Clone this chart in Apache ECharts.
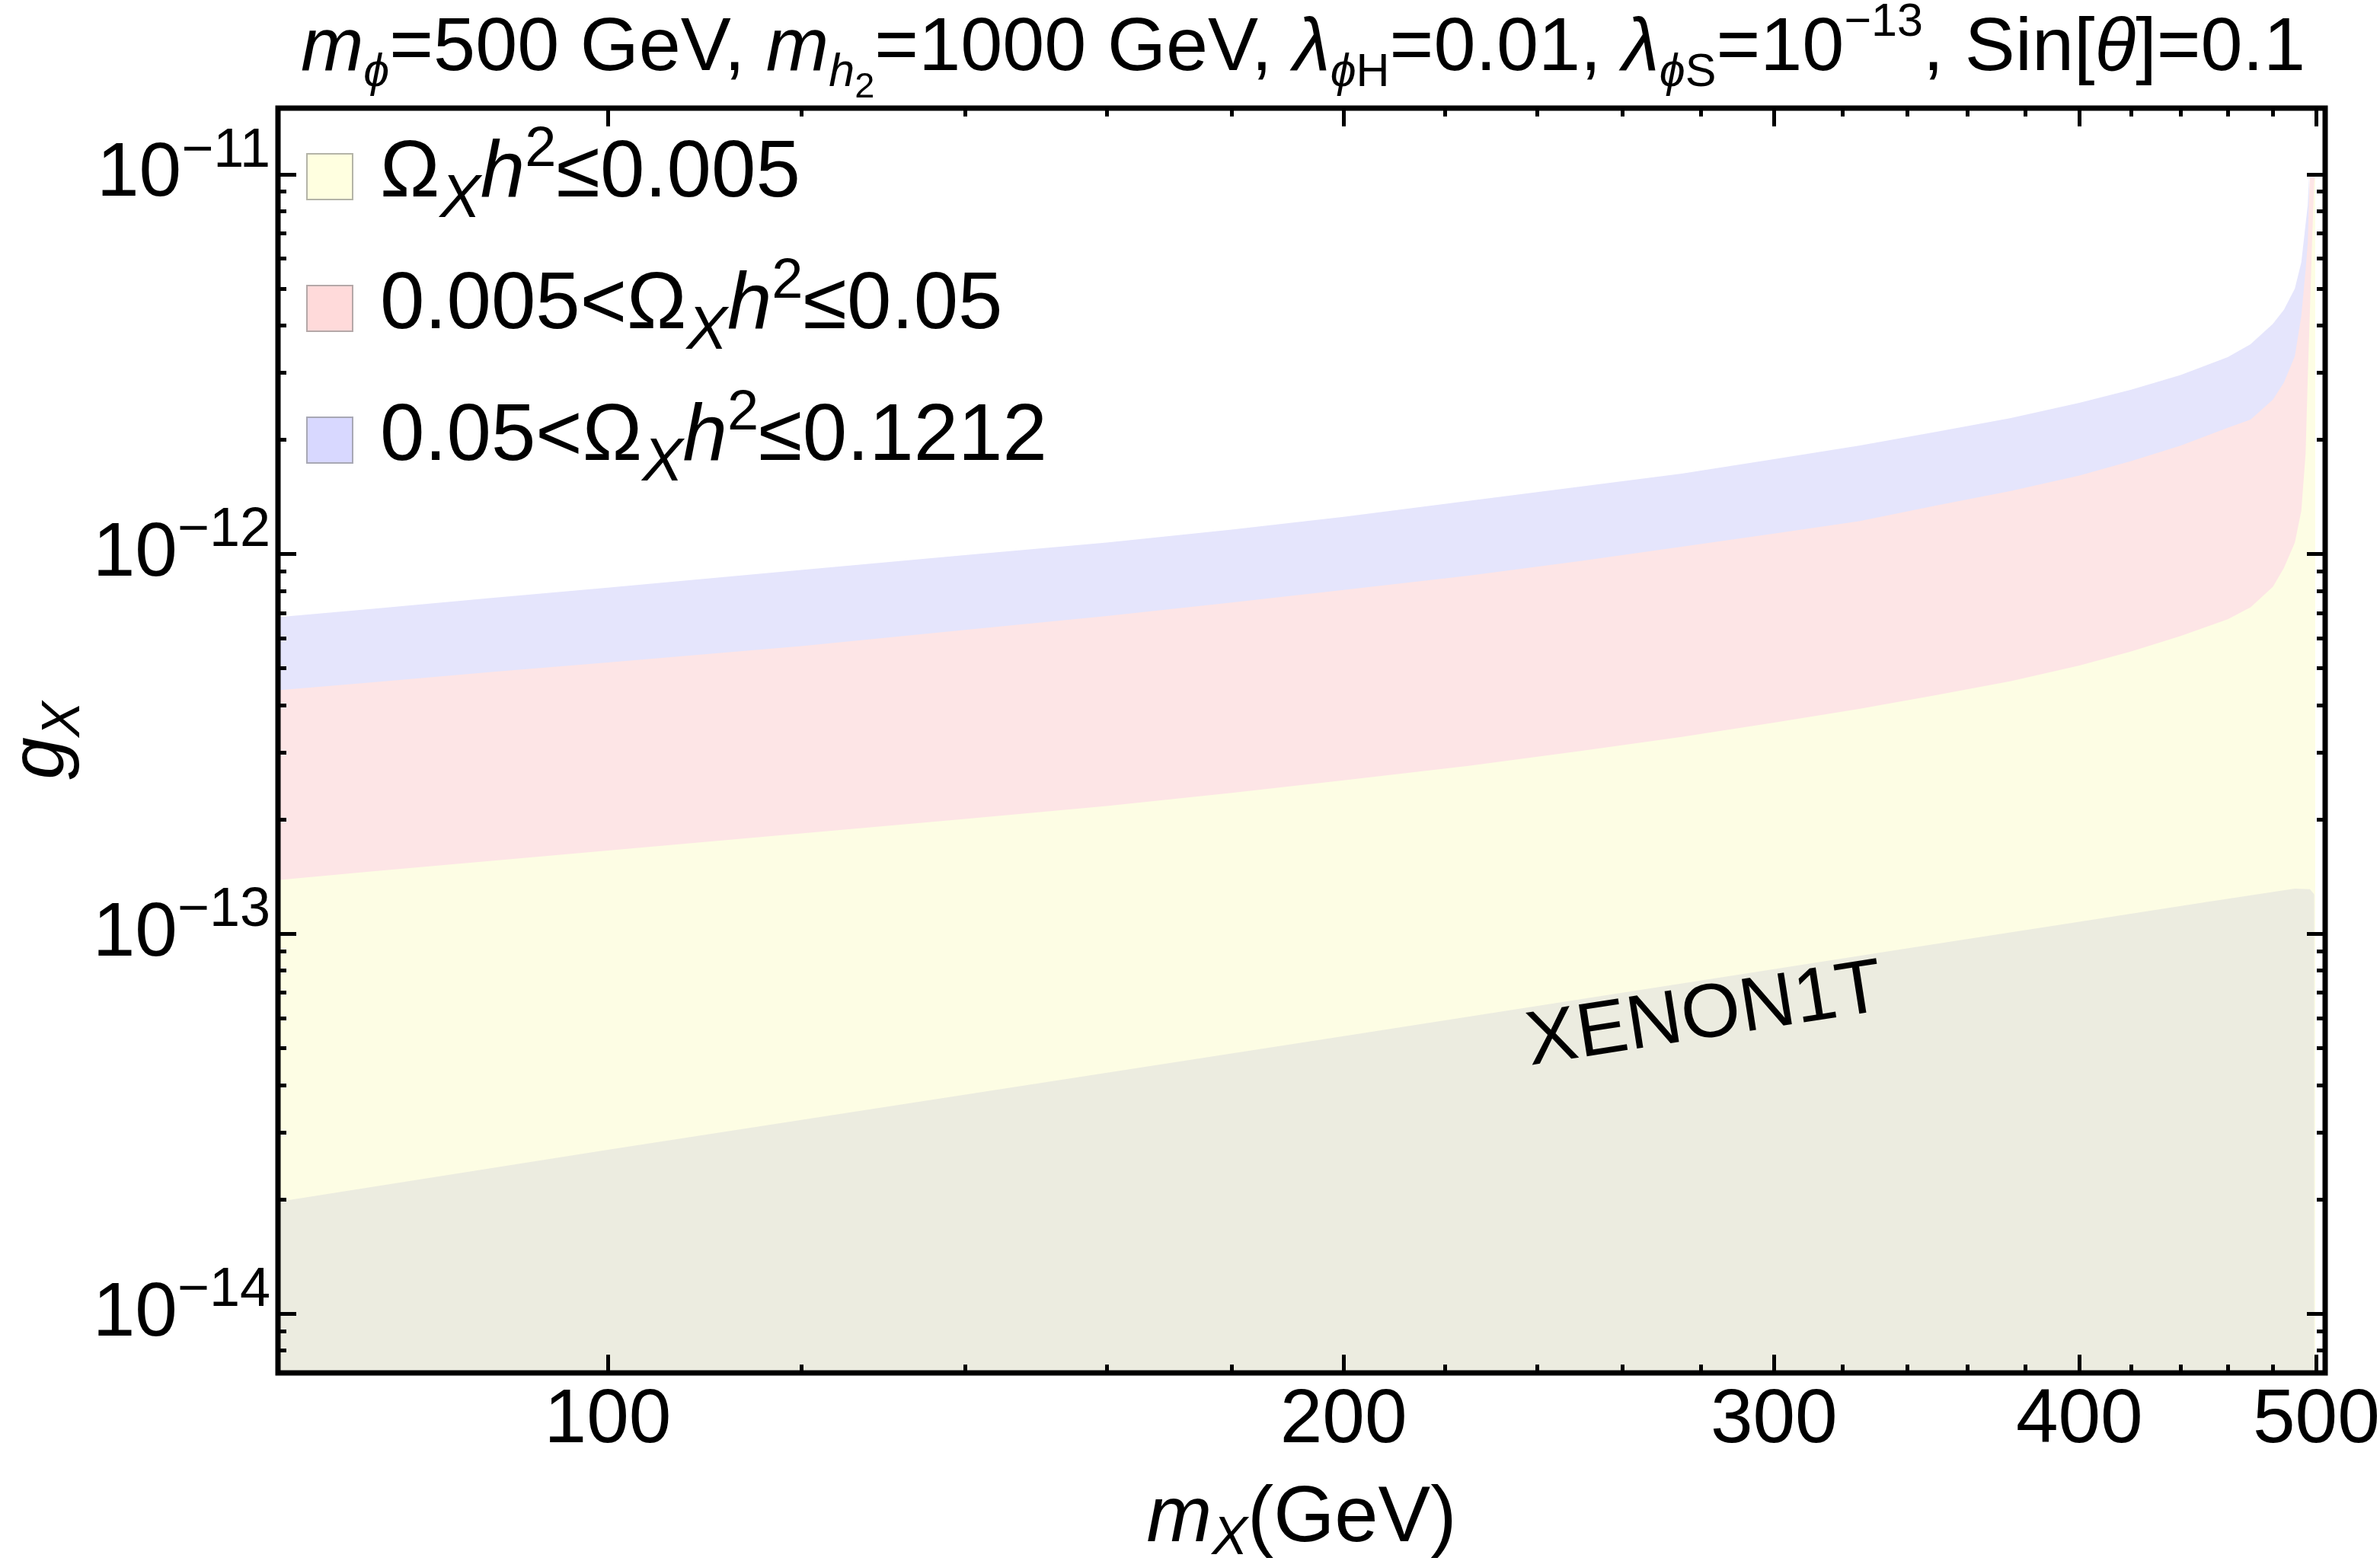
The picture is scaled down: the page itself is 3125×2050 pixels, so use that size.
<!DOCTYPE html>
<html><head><meta charset="utf-8">
<script src="https://cdn.jsdelivr.net/npm/echarts@6/dist/echarts.min.js"></script>
<style>html,body{margin:0;padding:0;background:#fff}#c{width:3125px;height:2050px}</style>
</head><body><div id="c"></div>
<script>
const FONT = '"Liberation Sans", Arial, Helvetica, sans-serif';

// ---- axis ranges / ticks ----
const X_MIN = 73.3, X_MAX = 504.2;
const Y_MIN = 6.98e-15, Y_MAX = 1.493e-11;
const xMajorTicks = [100, 200, 300, 400, 500];
const xMinorTicks = [120, 140, 160, 180, 220, 240, 260, 280, 320, 340, 360, 380, 420, 440, 460, 480];
const yMajorTicks = [1e-14, 1e-13, 1e-12, 1e-11];
const yMinorTicks = [8e-15, 9e-15,
  2e-14, 3e-14, 4e-14, 5e-14, 6e-14, 7e-14, 8e-14, 9e-14,
  2e-13, 3e-13, 4e-13, 5e-13, 6e-13, 7e-13, 8e-13, 9e-13,
  2e-12, 3e-12, 4e-12, 5e-12, 6e-12, 7e-12, 8e-12, 9e-12];

// ---- boundaries (m_X in GeV, g_X) ----
// upper edge of 0.05 < Omega h^2 <= 0.1212 band
const mBlue = [73.3, 80, 90, 100, 120, 140, 160, 180, 200, 225, 250, 275, 300, 325, 350, 375, 400, 420, 440, 460, 470, 480, 485, 490, 493, 495, 496, 496.6];
const gBlue = [6.82e-13, 7.17e-13, 7.68e-13, 8.16e-13, 9.08e-13, 9.93e-13, 1.072e-12, 1.16e-12, 1.253e-12, 1.38e-12, 1.506e-12, 1.629e-12, 1.778e-12, 1.93e-12, 2.10e-12, 2.28e-12, 2.50e-12, 2.71e-12, 2.96e-12, 3.30e-12, 3.57e-12, 4.04e-12, 4.40e-12, 5.0e-12, 5.86e-12, 7.4e-12, 8.3e-12, 1.0e-11];
// upper edge of 0.005 < Omega h^2 <= 0.05 band
const mPink = [73.3, 80, 90, 100, 120, 140, 160, 180, 200, 225, 250, 275, 300, 325, 350, 375, 400, 420, 440, 460, 470, 480, 485, 490, 493, 495, 496, 497, 499.3];
const gPink = [4.38e-13, 4.59e-13, 4.90e-13, 5.18e-13, 5.72e-13, 6.31e-13, 6.87e-13, 7.45e-13, 8.04e-13, 8.77e-13, 9.59e-13, 1.045e-12, 1.132e-12, 1.22e-12, 1.345e-12, 1.465e-12, 1.61e-12, 1.756e-12, 1.93e-12, 2.15e-12, 2.26e-12, 2.55e-12, 2.83e-12, 3.32e-12, 4.24e-12, 5.6e-12, 6.6e-12, 1.0e-11, 1.0e-11];
// upper edge of Omega h^2 <= 0.005 region
const mYellow = [73.3, 80, 90, 100, 120, 140, 160, 180, 200, 225, 250, 275, 300, 325, 350, 375, 400, 420, 440, 460, 470, 480, 485, 490, 493, 495, 496, 497, 498, 499, 499.5];
const gYellow = [1.386e-13, 1.459e-13, 1.56e-13, 1.656e-13, 1.839e-13, 2.006e-13, 2.17e-13, 2.35e-13, 2.535e-13, 2.77e-13, 3.03e-13, 3.30e-13, 3.60e-13, 3.91e-13, 4.26e-13, 4.63e-13, 5.085e-13, 5.54e-13, 6.08e-13, 6.73e-13, 7.24e-13, 8.2e-13, 9.2e-13, 1.072e-12, 1.30e-12, 1.84e-12, 2.92e-12, 4.34e-12, 6.6e-12, 9.5e-12, 1.0e-11];
// XENON1T exclusion upper edge
const mXenon = [73.3, 100, 150, 200, 250, 300, 350, 400, 450, 490, 497, 499];
const gXenon = [1.97e-14, 2.70e-14, 4.04e-14, 5.38e-14, 6.73e-14, 8.07e-14, 9.42e-14, 1.076e-13, 1.21e-13, 1.315e-13, 1.31e-13, 1.27e-13];
// XENON1T label anchor
const xenonLabelPoint = [281.1, 6.055e-14];

const seriesNames = ['c1', 'c2', 'c3'];
const legendLabels = [
  '{fm|Ω}{s|X}{mi|h}{p|2}{m|≤0.005}',
  '{fm|0.005<Ω}{s|X}{mi|h}{p|2}{m|≤0.05}',
  '{fm|0.05<Ω}{s|X}{mi|h}{p|2}{m|≤0.1212}'
];
const titleText = '{mi|m}{si|ϕ}{r|=500 GeV, }{mi|m}{si|h}{ss|2}{r|=1000 GeV, }{mi|λ}{si|ϕ}{s|H}{r|=0.01, }{mi|λ}{si|ϕ}{s|S}{r|=10}{sup|−13}{r|, Sin[}{mi|θ}{r|]=0.1}';

const fillColors = { yellow: '#FDFDE4', pink: '#FDE5E6', blue: '#E5E5FC', gray: '#ECECE0' };
const swatchColors = { yellow: '#FFFFE0', pink: '#FFDADA', blue: '#D8D8FF' };

function zip(a, b) { return a.map((v, i) => [v, b[i]]); }

function xAx(pos, ticks, len, withLabels) {
  const ax = {
    type: 'log', logBase: 10, min: X_MIN, max: X_MAX, position: pos, gridIndex: 0, z: 6,
    axisLine: { show: false }, splitLine: { show: false }, minorTick: { show: false },
    axisPointer: { show: false },
    axisTick: { show: true, inside: true, length: len, customValues: ticks, lineStyle: { color: '#000', width: 5 } },
    axisLabel: { show: false }
  };
  if (withLabels) {
    ax.axisLabel = {
      show: true, customValues: ticks, margin: 13, fontSize: 100, fontFamily: FONT, color: '#000',
      formatter: v => String(Math.round(v)), hideOverlap: false
    };
    ax.name = '{mi|m}{si|X}{r|(GeV)}';
    ax.nameLocation = 'middle';
    ax.nameGap = 141;
    ax.nameMoveOverlap = false;
    ax.nameTextStyle = {
      color: '#000', fontFamily: FONT, fontSize: 103,
      rich: {
        mi: { fontSize: 103, fontStyle: 'italic', fontFamily: FONT, color: '#000', verticalAlign: 'top', padding: [0, 0, 0, 0] },
        si: { fontSize: 70, fontStyle: 'italic', fontFamily: FONT, color: '#000', verticalAlign: 'top', padding: [43, 0, 0, 0] },
        r: { fontSize: 103, fontFamily: FONT, color: '#000', verticalAlign: 'top', padding: [0, 0, 0, 0] }
      }
    };
  }
  return ax;
}
function yAx(pos, ticks, len, withLabels) {
  const ax = {
    type: 'log', logBase: 10, min: Y_MIN, max: Y_MAX, position: pos, gridIndex: 0, z: 6,
    axisLine: { show: false }, splitLine: { show: false }, minorTick: { show: false },
    axisPointer: { show: false },
    axisTick: { show: true, inside: true, length: len, customValues: ticks, lineStyle: { color: '#000', width: 5 } },
    axisLabel: { show: false }
  };
  if (withLabels) {
    ax.axisLabel = {
      show: true, customValues: ticks, margin: 10, color: '#000', fontFamily: FONT, hideOverlap: false,
      formatter: v => '{b|10}{p|−' + Math.round(-Math.log10(v)) + '}',
      rich: {
        b: { fontSize: 100, fontFamily: FONT, color: '#000', verticalAlign: 'top', padding: [17, 0, 15, 0] },
        p: { fontSize: 72, fontFamily: FONT, color: '#000', verticalAlign: 'top', padding: [0, 0, 0, 0] }
      }
    };
    ax.name = '{gi|g}{si|X}';
    ax.nameLocation = 'middle';
    ax.nameRotate = 90;
    ax.nameGap = 245;
    ax.nameMoveOverlap = false;
    ax.nameTextStyle = {
      color: '#000', fontFamily: FONT, fontSize: 100,
      rich: {
        gi: { fontSize: 100, fontStyle: 'italic', fontFamily: FONT, color: '#000', verticalAlign: 'top', padding: [0, 0, 0, 0] },
        si: { fontSize: 70, fontStyle: 'italic', fontFamily: FONT, color: '#000', verticalAlign: 'top', padding: [45, 0, 0, 0] }
      }
    };
  }
  return ax;
}

function band(name, m, g, fill, swatch, z) {
  return {
    name: name, type: 'line', xAxisIndex: 0, yAxisIndex: 0, data: zip(m, g),
    symbol: 'none', showSymbol: false, silent: true, z: z,
    lineStyle: { width: 0, opacity: 0 },
    itemStyle: { color: swatch || fill },
    areaStyle: { color: fill, opacity: 1, origin: 'start' },
    emphasis: { disabled: true }
  };
}

const legendRich = {
  fm: { fontSize: 105, fontFamily: FONT, color: '#000', verticalAlign: 'top', padding: [16, 0, 0, 31] },
  m: { fontSize: 105, fontFamily: FONT, color: '#000', verticalAlign: 'top', padding: [16, 0, 0, 0] },
  mi: { fontSize: 105, fontStyle: 'italic', fontFamily: FONT, color: '#000', verticalAlign: 'top', padding: [16, 0, 0, 0] },
  s: { fontSize: 80, fontStyle: 'italic', fontFamily: FONT, color: '#000', verticalAlign: 'top', padding: [62, 0, 0, 0] },
  p: { fontSize: 74, fontFamily: FONT, color: '#000', verticalAlign: 'top', padding: [0, 0, 0, 0] }
};

const titleRich = {
  r: { fontSize: 99, fontFamily: FONT, color: '#000', verticalAlign: 'top', padding: [15, 0, 0, 0] },
  mi: { fontSize: 99, fontStyle: 'italic', fontFamily: FONT, color: '#000', verticalAlign: 'top', padding: [15, 0, 0, 0] },
  si: { fontSize: 61, fontStyle: 'italic', fontFamily: FONT, color: '#000', verticalAlign: 'top', padding: [66, 0, 0, 0] },
  s: { fontSize: 61, fontFamily: FONT, color: '#000', verticalAlign: 'top', padding: [66, 0, 0, 0] },
  ss: { fontSize: 47, fontFamily: FONT, color: '#000', verticalAlign: 'top', padding: [92, 0, 0, 0] },
  sup: { fontSize: 61, fontFamily: FONT, color: '#000', verticalAlign: 'top', padding: [0, 0, 0, 0] }
};

const chart = echarts.init(document.getElementById('c'), null, { renderer: 'canvas' });
chart.setOption({
  animation: false,
  backgroundColor: '#ffffff',
  title: {
    text: titleText, left: 1711, top: 0, textAlign: 'center', padding: 0,
    textStyle: { fontSize: 99, fontFamily: FONT, color: '#000', fontWeight: 'normal', rich: titleRich }
  },
  grid: {
    left: 365, right: 72, top: 142, bottom: 247, containLabel: false, outerBoundsMode: 'none',
    show: true, borderColor: '#000', borderWidth: 7, backgroundColor: 'transparent', z: 5
  },
  legend: {
    orient: 'vertical', left: 402, top: 161, padding: 0, itemWidth: 60, itemHeight: 60, itemGap: 31,
    icon: 'rect', selectedMode: false, z: 7,
    data: [
      { name: 'c1', itemStyle: { color: swatchColors.yellow, borderColor: '#B4B4A8', borderWidth: 2 } },
      { name: 'c2', itemStyle: { color: swatchColors.pink, borderColor: '#B4A8A8', borderWidth: 2 } },
      { name: 'c3', itemStyle: { color: swatchColors.blue, borderColor: '#A8A8B4', borderWidth: 2 } }
    ],
    formatter: name => legendLabels[seriesNames.indexOf(name)],
    textStyle: { fontSize: 105, fontFamily: FONT, color: '#000', rich: legendRich }
  },
  xAxis: [
    xAx('bottom', xMajorTicks, 24, true),
    xAx('top', xMajorTicks, 24, false),
    xAx('bottom', xMinorTicks, 11, false),
    xAx('top', xMinorTicks, 11, false)
  ],
  yAxis: [
    yAx('left', yMajorTicks, 24, true),
    yAx('right', yMajorTicks, 24, false),
    yAx('left', yMinorTicks, 11, false),
    yAx('right', yMinorTicks, 11, false)
  ],
  series: [
    band('c3', mBlue, gBlue, fillColors.blue, swatchColors.blue, 2),
    band('c2', mPink, gPink, fillColors.pink, swatchColors.pink, 2),
    band('c1', mYellow, gYellow, fillColors.yellow, swatchColors.yellow, 2),
    band('XENON1T', mXenon, gXenon, fillColors.gray, null, 2),
    {
      name: 'xenonLabel', type: 'scatter', xAxisIndex: 0, yAxisIndex: 0, data: [xenonLabelPoint],
      symbolSize: 1, itemStyle: { color: 'rgba(0,0,0,0)' }, silent: true, z: 3,
      label: { show: true, position: 'inside', formatter: 'XENON1T', rotate: 8.9, fontSize: 100, fontFamily: FONT,
               color: '#000000', opacity: 1, textBorderWidth: 0, textBorderColor: 'transparent', textShadowBlur: 0 },
      emphasis: { disabled: true }
    }
  ]
});
</script></body></html>
